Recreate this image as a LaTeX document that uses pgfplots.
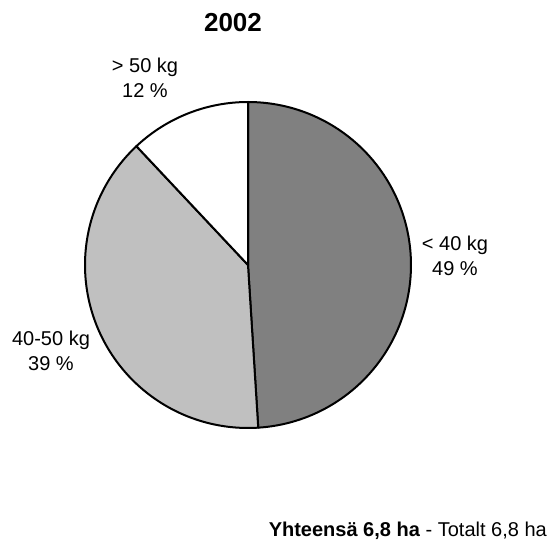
\documentclass[border=0pt]{standalone}
\usepackage{pgfplots}
\pgfplotsset{compat=1.18}
\usepackage{pgfplotstable}
\usepackage{fontspec}
\setmainfont{Liberation Sans}
\definecolor{darkslice}{HTML}{808080}
\definecolor{lightslice}{HTML}{C0C0C0}
\pgfplotstableread{
cat pct
lt40 49
mid 39
gt50 12
}\piedata
\begin{document}
\begin{tikzpicture}[x=1pt,y=1pt]
\useasboundingbox (0,0) rectangle (550,549);
\pgfplotstablegetelem{0}{pct}\of\piedata \let\pa\pgfplotsretval
\pgfplotstablegetelem{1}{pct}\of\piedata \let\pb\pgfplotsretval
\pgfplotstablegetelem{2}{pct}\of\piedata \let\pc\pgfplotsretval
\pgfmathsetmacro{\aA}{0}
\pgfmathsetmacro{\aB}{3.6*\pa}
\pgfmathsetmacro{\aC}{3.6*(\pa+\pb)}
\pgfmathsetmacro{\aD}{3.6*(\pa+\pb+\pc)}
\begin{axis}[
  scale only axis, width=326pt, height=326pt,
  xmin=-1, xmax=1, ymin=-1, ymax=1,
  hide axis, clip=false,
  at={(248pt,284pt)}, anchor=center,
]
\addplot[fill=darkslice, draw=black, line width=2pt, line join=round, domain=\aA:\aB, samples=120, variable=\t] ({sin(\t)},{cos(\t)}) -- (axis cs:0,0) -- cycle;
\addplot[fill=lightslice, draw=black, line width=2pt, line join=round, domain=\aB:\aC, samples=120, variable=\t] ({sin(\t)},{cos(\t)}) -- (axis cs:0,0) -- cycle;
\addplot[fill=white, draw=black, line width=2pt, line join=round, domain=\aC:\aD, samples=60, variable=\t] ({sin(\t)},{cos(\t)}) -- (axis cs:0,0) -- cycle;
\end{axis}
\node[font=\bfseries\fontsize{26}{30}\selectfont] at (233,526) {2002};
\node[align=center, font=\fontsize{20}{24.5}\selectfont] at (145,471) {> 50 kg\\12 \%};
\node[align=center, font=\fontsize{20}{24.5}\selectfont] at (455,293) {< 40 kg\\49 \%};
\node[align=center, font=\fontsize{20}{24.5}\selectfont] at (51,198) {40-50 kg\\39 \%};
\node[anchor=east, inner sep=0pt, font=\fontsize{20}{24.5}\selectfont] at (547,18) {\textbf{Yhteensä 6,8 ha} - Totalt 6,8 ha};
\end{tikzpicture}
\end{document}
